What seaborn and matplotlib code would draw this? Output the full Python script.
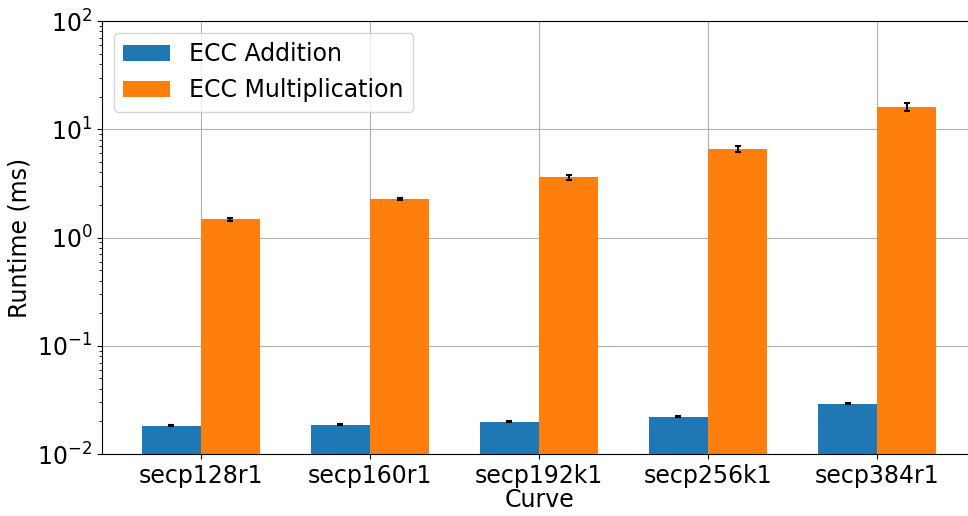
import matplotlib
matplotlib.use("Agg")
import matplotlib.pyplot as plt
from matplotlib.ticker import LogLocator, NullFormatter
import numpy as np
import pandas as pd
import seaborn as sns

curves = ["secp128r1", "secp160r1", "secp192k1", "secp256k1", "secp384r1"]
operations = ["ECC Addition", "ECC Multiplication"]
add_mean = [0.0182, 0.0186, 0.0198, 0.0221, 0.0292]
add_std = [0.0002, 0.0002, 0.0002, 0.0002, 0.0003]
mul_mean = [1.48, 2.27, 3.62, 6.57, 16.1]
mul_std = [0.05, 0.07, 0.19, 0.40, 1.5]
colors = ["#1f77b4", "#ff7f0e"]

df = pd.DataFrame({
    "Curve": curves * 2,
    "Operation": [operations[0]] * len(curves) + [operations[1]] * len(curves),
    "Runtime": add_mean + mul_mean,
})
errors = {operations[0]: add_std, operations[1]: mul_std}

plt.rcParams["font.family"] = ["DejaVu Sans"]
plt.rcParams["font.size"] = 17

fig = plt.figure(figsize=(9.68, 5.16), dpi=100)
ax = fig.add_axes([102 / 968, 62 / 516, 874 / 968, 433 / 516])

sns.barplot(data=df, x="Curve", y="Runtime", hue="Operation",
            hue_order=operations, palette=colors, saturation=1,
            width=0.7, errorbar=None, ax=ax, zorder=2)

for container, op in zip(ax.containers, operations):
    xs = [p.get_x() + p.get_width() / 2 for p in container.patches]
    hs = [p.get_height() for p in container.patches]
    ax.errorbar(xs, hs, yerr=errors[op], fmt="none", ecolor="black",
                elinewidth=1.5, capsize=2, capthick=1.5, zorder=3)

ax.set_yscale("log")
ax.set_ylim(1e-2, 1e2)
ax.yaxis.set_minor_locator(LogLocator(base=10, subs=np.arange(2, 10)))
ax.yaxis.set_minor_formatter(NullFormatter())
ax.set_xlim(-0.585, 4.585)
ax.set_axisbelow(True)
ax.grid(True, which="major", axis="both", color="#b0b0b0", linewidth=0.8)
ax.set_xlabel("Curve", fontsize=17, labelpad=0)
ax.set_ylabel("Runtime (ms)", fontsize=17)
ax.tick_params(axis="both", labelsize=17)
ax.tick_params(axis="y", which="minor", length=2, width=0.6)
for s in ax.spines.values():
    s.set_color("black")
    s.set_linewidth(0.8)

ax.legend(loc="upper left", fontsize=17, framealpha=0.8)

fig.savefig("out.png", dpi=100)
